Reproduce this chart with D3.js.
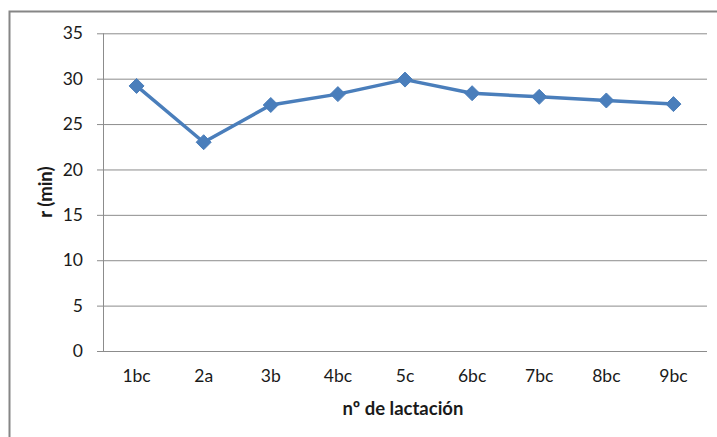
<!DOCTYPE html>
<html>
<head>
<meta charset="utf-8">
<script src="https://cdn.jsdelivr.net/npm/d3@7.9.0/dist/d3.min.js"></script>
<style>
  body { margin: 0; background: #fff; }
  svg { display: block; font-family: Lato, "Open Sans", sans-serif; }
</style>
</head>
<body>
<svg id="chart" width="717" height="437"></svg>
<script>
// categories and values
const lactations = ["1bc", "2a", "3b", "4bc", "5c", "6bc", "7bc", "8bc", "9bc"];
const rMin = [29.2, 23.0, 27.1, 28.3, 29.9, 28.4, 28.0, 27.6, 27.2];
const yTicks = [0, 5, 10, 15, 20, 25, 30, 35];

const svg = d3.select("#chart");

// outer chart frame (runs off the right and bottom of the picture)
svg.append("rect")
  .attr("x", 9.5).attr("y", 11.5)
  .attr("width", 720).attr("height", 440)
  .attr("fill", "none")
  .attr("stroke", "#868686")
  .attr("stroke-width", 2);

const plot = { left: 103, right: 707, top: 33.3, bottom: 351 };

const x = d3.scaleBand().domain(lactations).range([plot.left, plot.right]);
const y = d3.scaleLinear().domain([0, 35]).range([plot.bottom, plot.top]);

// gridlines + y ticks
const yAxis = svg.append("g")
  .attr("transform", `translate(${plot.left},0)`)
  .call(d3.axisLeft(y).tickValues(yTicks).tickSize(6).tickPadding(14));
yAxis.select(".domain").remove();
yAxis.selectAll(".tick line")
  .attr("x2", plot.right - plot.left)
  .attr("x1", -6)
  .attr("stroke", "#8c8c8c");
yAxis.selectAll(".tick text")
  .attr("font-size", 17.5)
  .attr("fill", "#1a1a1a")
  .attr("font-family", "Lato, sans-serif");

// y axis line
svg.append("line")
  .attr("x1", plot.left + 0.5).attr("x2", plot.left + 0.5)
  .attr("y1", plot.top).attr("y2", plot.bottom)
  .attr("stroke", "#8c8c8c");

// x labels
const xAxis = svg.append("g")
  .attr("transform", `translate(0,${plot.bottom})`)
  .call(d3.axisBottom(x).tickSize(0).tickPadding(19));
xAxis.select(".domain").remove();
xAxis.selectAll(".tick text")
  .attr("font-size", 17.5)
  .attr("fill", "#1a1a1a")
  .attr("font-family", "Lato, sans-serif");

// axis titles
svg.append("text")
  .attr("transform", `translate(52,${(plot.top + plot.bottom) / 2}) rotate(-90)`)
  .attr("text-anchor", "middle")
  .attr("font-size", 18.5)
  .attr("font-weight", "bold")
  .attr("fill", "#1a1a1a")
  .text("r (min)");

svg.append("text")
  .attr("x", 403)
  .attr("y", 415)
  .attr("text-anchor", "middle")
  .attr("font-size", 18.5)
  .attr("font-weight", "bold")
  .attr("fill", "#1a1a1a")
  .text("nº de lactación");

const cx = d => x(d) + x.bandwidth() / 2;
const points = lactations.map((c, i) => ({ c, v: rMin[i] }));

svg.append("path")
  .datum(points)
  .attr("fill", "none")
  .attr("stroke", "#4a7ebb")
  .attr("stroke-width", 3.5)
  .attr("stroke-linejoin", "round")
  .attr("d", d3.line().x(d => cx(d.c)).y(d => y(d.v)));

svg.selectAll(".marker")
  .data(points)
  .join("path")
  .attr("class", "marker")
  .attr("transform", d => `translate(${cx(d.c)},${y(d.v)})`)
  .attr("d", "M0,-7.5L7.5,0L0,7.5L-7.5,0Z")
  .attr("fill", "#4a7ebb")
  .attr("stroke", "#4a7ebb")
  .attr("stroke-width", 1);
</script>
</body>
</html>
